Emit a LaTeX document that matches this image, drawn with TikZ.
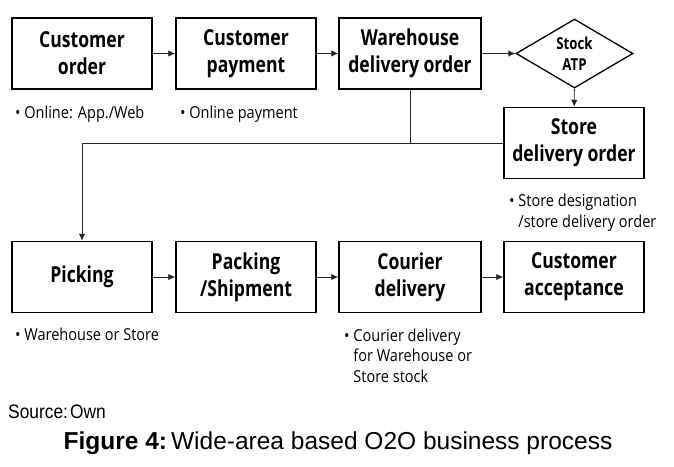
\documentclass[tikz,border=0pt]{standalone}
\usepackage{fontspec}
\setmainfont{Open Sans}
\newfontfamily\boxfont{Open Sans}[FakeStretch=0.8]
\newfontfamily\notefont{Open Sans}[FakeStretch=0.88]
\newfontfamily\arialfont{Liberation Sans}
\newfontfamily\arialnarrow{Liberation Sans}[FakeStretch=0.89]
\usetikzlibrary{shapes.geometric,arrows.meta}
\begin{document}
\begin{tikzpicture}[x=1pt,y=-1pt,
  box/.style={draw=black,line width=1.5pt,minimum width=140pt,minimum height=71pt,
    align=center,inner sep=0pt,font=\boxfont\bfseries\fontsize{22}{27}\selectfont},
  note/.style={anchor=base west,align=left,inner sep=0pt,
    font=\notefont\fontsize{16.5}{20.5}\selectfont},
  conn/.style={draw=black!85,line width=0.9pt},
  arr/.style={conn,-{Latex[length=7pt,width=6.5pt]}}]
\useasboundingbox (0,0) rectangle (674,466);
% row 1
\node[box] (co) at (82,53.5) {Customer\\order};
\node[box] (cp) at (246,53.5) {Customer\\payment};
\node[box,minimum width=142pt] (wd) at (410,53.5) {Warehouse\\delivery order};
\node[diamond,draw=black,line width=1.3pt,minimum width=117pt,minimum height=69pt,
  aspect=1.7,inner sep=0pt,align=center,
  font=\boxfont\bfseries\fontsize{16.5}{21}\selectfont] (atp) at (574.5,53.5) {Stock\\ATP};
\node[box] (st) at (574,143) {Store\\delivery order};
% row 2
\node[box] (pk) at (82,277) {Picking};
\node[box] (ps) at (246,277) {Packing\\/Shipment};
\node[box,minimum width=142pt] (cd) at (410,277) {Courier\\delivery};
\node[box] (ca) at (574,277) {Customer\\acceptance};
% notes (anchor = baseline of the last line)
\node[note] (n1) at (15,118) {•\ Online: App./Web};
\node[note] (n2) at (180,118) {•\ Online payment};
\node[note] (n3) at (509,227) {•\ Store designation\\\phantom{•}\ /store delivery order};
\node[note] (n4) at (15,340) {•\ Warehouse or Store};
\node[note] (n5) at (344,382) {•\ Courier delivery\\\phantom{•}\ for Warehouse or\\\phantom{•}\ Store stock};
% caption
\node[anchor=base west,inner sep=0pt,font=\arialnarrow\fontsize{19.5}{22}\selectfont] (src) at (8,418) {Source:\hspace{2pt}Own};
\node[anchor=base,inner sep=0pt,font=\arialfont\fontsize{24.5}{28}\selectfont] (cap) at (338,449) {\textbf{Figure 4:}\hspace{4pt}Wide-area based O2O business process};
% connectors
\draw[arr] (co) -- (cp);
\draw[arr] (cp) -- (wd);
\draw[arr] (wd) -- (atp);
\draw[arr] (atp) -- (st);
\draw[conn] (wd.south) -- (wd.south |- st.west) -- (st.west);
\draw[arr] (wd.south |- st.west) -| (pk.north);
\draw[arr] (pk) -- (ps);
\draw[arr] (ps) -- (cd);
\draw[arr] (cd) -- (ca);
\end{tikzpicture}
\end{document}
